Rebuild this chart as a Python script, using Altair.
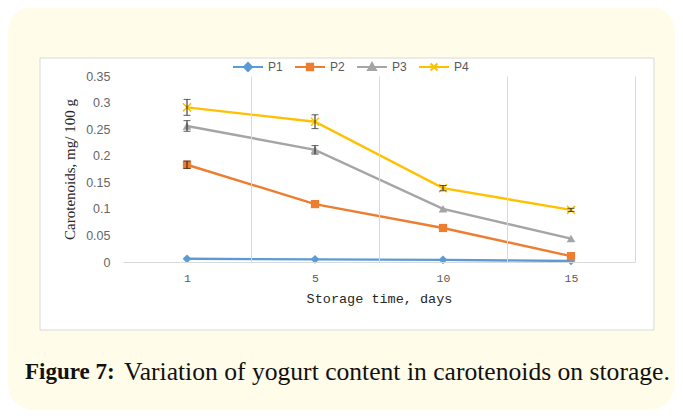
import altair as alt
import pandas as pd

days = ["1", "5", "10", "15"]
series = ["P1", "P2", "P3", "P4"]
p1 = [0.006, 0.005, 0.004, 0.002]
p2 = [0.183, 0.109, 0.064, 0.011]
p3 = [0.256, 0.211, 0.100, 0.044]
p4 = [0.291, 0.264, 0.139, 0.098]
err_p1 = [0, 0, 0, 0]
err_p2 = [0.007, 0, 0, 0]
err_p3 = [0.010, 0.008, 0, 0]
err_p4 = [0.015, 0.013, 0.005, 0.003]
colors = ["#5B9BD5", "#ED7D31", "#A5A5A5", "#FFC000"]
y_ticks = [0, 0.05, 0.1, 0.15, 0.2, 0.25, 0.3, 0.35]
x_title = "Storage time, days"
y_title = "Carotenoids, mg/ 100 g"
caption_bold = "Figure 7:"
caption_text = "Variation of yogurt content in carotenoids on storage."

rows = []
for s, vals, errs in zip(series, [p1, p2, p3, p4], [err_p1, err_p2, err_p3, err_p4]):
    for d, v, e in zip(days, vals, errs):
        rows.append({"day": d, "series": s, "value": v, "err": e,
                     "lo": v - e, "hi": v + e})
df = pd.DataFrame(rows)
legend_df = pd.DataFrame({"series": series})

x_axis = alt.Axis(title=x_title, tickOffset=64, labelOffset=-64, grid=True,
                  gridColor="#D9D9D9", gridWidth=1, ticks=False,
                  domainColor="#D9D9D9", domainWidth=1, labelAngle=0,
                  labelFont="Liberation Mono", labelFontSize=11.5, labelColor="#595959",
                  labelPadding=10, titleFont="Liberation Mono", titleFontSize=13.5,
                  titleFontWeight="normal", titleColor="#262626", titlePadding=8,
                  zindex=1)
x_scale = alt.Scale(type="point", domain=days, padding=0.5)
y_scale = alt.Scale(domain=[0, 0.35], nice=False, zero=True)
y_axis = alt.Axis(title=y_title, values=y_ticks, format="~g", grid=False,
                  domain=False, ticks=False, labelFont="Liberation Sans",
                  labelFontSize=12.5, labelColor="#666666", labelPadding=13,
                  titleFont="Liberation Serif", titleFontSize=15,
                  titleFontWeight="normal", titleColor="#262626", titlePadding=8,
                  zindex=1)
color_scale = alt.Scale(domain=series, range=colors)

def X():
    return alt.X("day:N", sort=days, scale=x_scale, axis=x_axis)

def Y(field):
    return alt.Y(f"{field}:Q", scale=y_scale, axis=y_axis)

one = alt.Data(values=[{"k": 1}])

bg = alt.Chart(one).mark_rect(color="#FFFCEA", cornerRadius=26).encode(
    x=alt.value(-115), x2=alt.value(552), y=alt.value(-70), y2=alt.value(334))
box = alt.Chart(one).mark_rect(color="white", stroke="#D9D9D9", strokeWidth=1).encode(
    x=alt.value(-83), x2=alt.value(531), y=alt.value(-18), y2=alt.value(254))

base = alt.Chart(df)
lines = base.mark_line(strokeWidth=2.4).encode(
    x=X(), y=Y("value"),
    color=alt.Color("series:N", scale=color_scale, legend=None),
    detail="series:N")

marker_defs = {
    "P1": dict(shape="diamond", filled=True, size=75, color=colors[0]),
    "P2": dict(shape="square", filled=True, size=68, color=colors[1]),
    "P3": dict(shape="triangle-up", filled=True, size=75, color=colors[2]),
    "P4": dict(shape="M-1,-1L1,1M-1,1L1,-1", filled=False, size=65, strokeWidth=1.5,
               color=colors[3]),
}
markers = [base.transform_filter(alt.datum.series == s).mark_point(opacity=1, **kw).encode(
    x=X(), y=Y("value")) for s, kw in marker_defs.items()]

errdata = base.transform_filter("datum.err > 0")
err_rule = errdata.mark_rule(color="#1F1F1F", strokeWidth=1).encode(
    x=X(), y=Y("lo"), y2="hi:Q")
err_lo = errdata.mark_tick(color="#1F1F1F", thickness=1, size=7, orient="horizontal").encode(
    x=X(), y=Y("lo"))
err_hi = errdata.mark_tick(color="#1F1F1F", thickness=1, size=7, orient="horizontal").encode(
    x=X(), y=Y("hi"))

main = alt.layer(lines, *markers, err_rule, err_lo, err_hi)

# legend drawn as marks: line-with-marker symbols and labels
legend_paths = [
    "M-1,0L1,0M0,-0.27L0.27,0L0,0.27L-0.27,0Z",
    "M-1,0L1,0M-0.21,-0.21L0.21,-0.21L0.21,0.21L-0.21,0.21Z",
    "M-1,0L1,0M0,-0.26L0.26,0.2L-0.26,0.2Z",
    "M-1,0L1,0M-0.23,-0.23L0.23,0.23M-0.23,0.23L0.23,-0.23",
]
leg_x = alt.X("series:N", sort=series,
              scale=alt.Scale(type="point", domain=series, range=[125, 311], padding=0),
              axis=None)
leg_base = alt.Chart(legend_df)
leg_sym = leg_base.mark_point(filled=True, size=900, strokeWidth=2, opacity=1).encode(
    x=leg_x, y=alt.value(-9),
    fill=alt.Fill("series:N", scale=color_scale, legend=None),
    stroke=alt.Stroke("series:N", scale=color_scale, legend=None),
    shape=alt.Shape("series:N", scale=alt.Scale(domain=series, range=legend_paths),
                    legend=None),
)
leg_txt = leg_base.mark_text(align="left", baseline="middle", dx=20, font="Liberation Sans",
                             fontSize=12, color="#595959").encode(
    x=leg_x, y=alt.value(-9), text="series:N")

cap1 = alt.Chart(one).mark_text(align="left", baseline="middle", font="Liberation Serif",
                                fontSize=23, fontWeight="bold", color="#111111").encode(
    x=alt.value(-98), y=alt.value(296), text=alt.value(caption_bold))
cap2 = alt.Chart(one).mark_text(align="left", baseline="middle", font="Liberation Serif",
                                fontSize=25.6, color="#111111").encode(
    x=alt.value(1), y=alt.value(296), text=alt.value(caption_text))

chart = alt.layer(bg, box, main, leg_sym, leg_txt, cap1, cap2).resolve_scale(
    x="independent").properties(
    width=512, height=186,
    padding={"left": 115, "top": 68, "right": 40, "bottom": 150},
    autosize=alt.AutoSizeParams(type="none"),
).configure_view(stroke=None)

chart.save("out.html", embed_options={"renderer": "svg", "actions": False})
